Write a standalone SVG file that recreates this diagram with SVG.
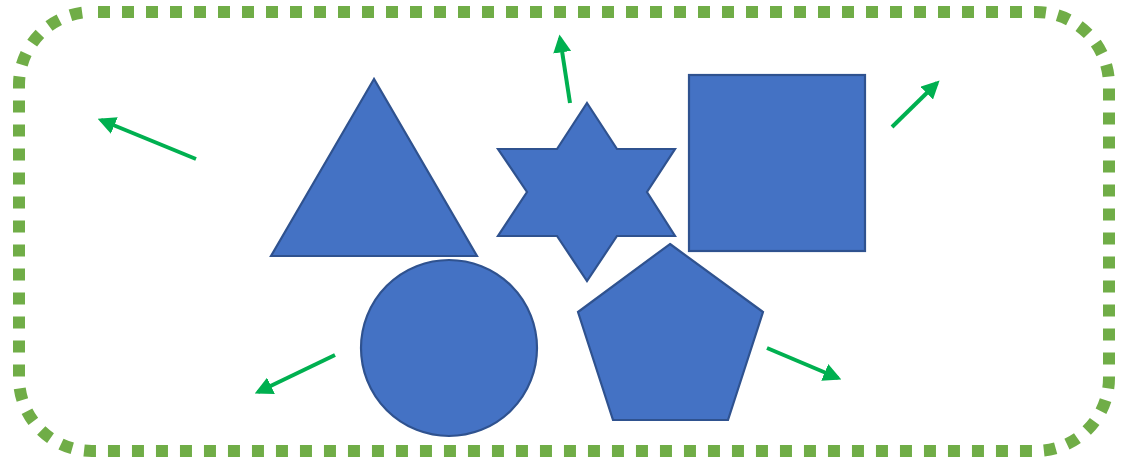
<svg xmlns="http://www.w3.org/2000/svg" width="1128" height="462" viewBox="0 0 1128 462">
<style>
.shape{fill:#4472C4;stroke:#2F528F;stroke-width:2.2}
.arr{stroke:#00B050;stroke-width:4;fill:none;marker-end:url(#ah)}
</style>
<defs>
<marker id="ah" viewBox="0 0 10 10" refX="8" refY="5" markerWidth="4.5" markerHeight="4.5" orient="auto" markerUnits="strokeWidth">
<path d="M0,0 L10,5 L0,10 z" fill="#00B050"/>
</marker>
</defs>
<rect x="0" y="0" width="1128" height="462" fill="#fff"/>
<g id="border">
<rect x="19" y="12" width="1090" height="439" rx="73" ry="73" fill="none" stroke="#70AD47" stroke-width="12" stroke-dasharray="12 12" stroke-dashoffset="-6"/>
</g>
<g id="triangle"><polygon class="shape" points="374,79 271,256 477,256"/></g>
<g id="star"><polygon class="shape" points="587,103 617,149 675,149 647,192 675,236 617,236 587,281 557,236 498,236 527,192 498,149 557,149"/></g>
<g id="square"><rect class="shape" x="689" y="75" width="176" height="176"/></g>
<g id="circle"><circle class="shape" cx="449" cy="348" r="88"/></g>
<g id="pentagon"><polygon class="shape" points="670,244 763,312 728,420 613,420 578,312"/></g>
<g id="connectors">
<line class="arr" x1="196" y1="159" x2="101" y2="120"/>
<line class="arr" x1="570" y1="103" x2="560" y2="38"/>
<line class="arr" x1="892" y1="127" x2="937" y2="83"/>
<line class="arr" x1="335" y1="355" x2="258" y2="392"/>
<line class="arr" x1="767" y1="348" x2="838" y2="378"/>
</g>
</svg>
